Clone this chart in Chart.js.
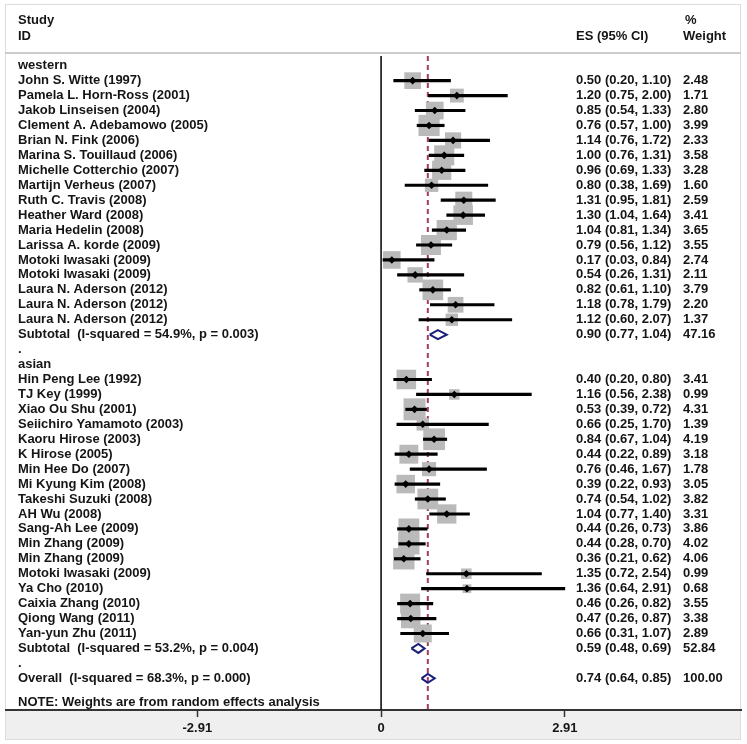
<!DOCTYPE html>
<html>
<head>
<meta charset="utf-8">
<title>Forest plot</title>
<script src="https://cdn.jsdelivr.net/npm/chart.js@4.4.0/dist/chart.umd.min.js"></script>
<style>
  html, body { margin: 0; padding: 0; background: #fff; }
  #wrap { width: 747px; height: 744px; }
</style>
</head>
<body>
<div id="wrap"><canvas id="forest" width="747" height="744"></canvas></div>
<script>
/* Forest plot: western vs asian studies, random effects. */

// ---- data ----
const westernNames = [
  'John S. Witte (1997)', 'Pamela L. Horn-Ross (2001)', 'Jakob Linseisen (2004)',
  'Clement A. Adebamowo (2005)', 'Brian N. Fink (2006)', 'Marina S. Touillaud (2006)',
  'Michelle Cotterchio (2007)', 'Martijn Verheus (2007)', 'Ruth C. Travis (2008)',
  'Heather Ward (2008)', 'Maria Hedelin (2008)', 'Larissa A. korde (2009)',
  'Motoki Iwasaki (2009)', 'Motoki Iwasaki (2009)', 'Laura N. Aderson (2012)',
  'Laura N. Aderson (2012)', 'Laura N. Aderson (2012)',
];
const westernES = [0.50, 1.20, 0.85, 0.76, 1.14, 1.00, 0.96, 0.80, 1.31, 1.30, 1.04, 0.79, 0.17, 0.54, 0.82, 1.18, 1.12];
const westernLo = [0.20, 0.75, 0.54, 0.57, 0.76, 0.76, 0.69, 0.38, 0.95, 1.04, 0.81, 0.56, 0.03, 0.26, 0.61, 0.78, 0.60];
const westernHi = [1.10, 2.00, 1.33, 1.00, 1.72, 1.31, 1.33, 1.69, 1.81, 1.64, 1.34, 1.12, 0.84, 1.31, 1.10, 1.79, 2.07];
const westernWeight = [2.48, 1.71, 2.80, 3.99, 2.33, 3.58, 3.28, 1.60, 2.59, 3.41, 3.65, 3.55, 2.74, 2.11, 3.79, 2.20, 1.37];

const asianNames = [
  'Hin Peng Lee (1992)', 'TJ Key (1999)', 'Xiao Ou Shu (2001)', 'Seiichiro Yamamoto (2003)',
  'Kaoru Hirose (2003)', 'K Hirose (2005)', 'Min Hee Do (2007)', 'Mi Kyung Kim (2008)',
  'Takeshi Suzuki (2008)', 'AH Wu (2008)', 'Sang-Ah Lee (2009)', 'Min Zhang (2009)',
  'Min Zhang (2009)', 'Motoki Iwasaki (2009)', 'Ya Cho (2010)', 'Caixia Zhang (2010)',
  'Qiong Wang (2011)', 'Yan-yun Zhu (2011)',
];
const asianES = [0.40, 1.16, 0.53, 0.66, 0.84, 0.44, 0.76, 0.39, 0.74, 1.04, 0.44, 0.44, 0.36, 1.35, 1.36, 0.46, 0.47, 0.66];
const asianLo = [0.20, 0.56, 0.39, 0.25, 0.67, 0.22, 0.46, 0.22, 0.54, 0.77, 0.26, 0.28, 0.21, 0.72, 0.64, 0.26, 0.26, 0.31];
const asianHi = [0.80, 2.38, 0.72, 1.70, 1.04, 0.89, 1.67, 0.93, 1.02, 1.40, 0.73, 0.70, 0.62, 2.54, 2.91, 0.82, 0.87, 1.07];
const asianWeight = [3.41, 0.99, 4.31, 1.39, 4.19, 3.18, 1.78, 3.05, 3.82, 3.31, 3.86, 4.02, 4.06, 0.99, 0.68, 3.55, 3.38, 2.89];

const summaryLabels = [
  'Subtotal  (I-squared = 54.9%, p = 0.003)',
  'Subtotal  (I-squared = 53.2%, p = 0.004)',
  'Overall  (I-squared = 68.3%, p = 0.000)',
];
const summaryES = [0.90, 0.59, 0.74];
const summaryLo = [0.77, 0.48, 0.64];
const summaryHi = [1.04, 0.69, 0.85];
const summaryWeight = [47.16, 52.84, 100.00];

const groupNames = ['western', 'asian'];
const xTicks = [-2.91, 0, 2.91];
const noteText = 'NOTE: Weights are from random effects analysis';

// ---- row layout (one row per line of the table) ----
const rows = [];
rows.push({ label: groupNames[0], kind: 'head' });
westernNames.forEach((n, i) => rows.push({ label: n, kind: 'study', es: westernES[i], lo: westernLo[i], hi: westernHi[i], wt: westernWeight[i] }));
rows.push({ label: summaryLabels[0], kind: 'sum', es: summaryES[0], lo: summaryLo[0], hi: summaryHi[0], wt: summaryWeight[0] });
rows.push({ label: '.', kind: 'gap' });
rows.push({ label: groupNames[1], kind: 'head' });
asianNames.forEach((n, i) => rows.push({ label: n, kind: 'study', es: asianES[i], lo: asianLo[i], hi: asianHi[i], wt: asianWeight[i] }));
rows.push({ label: summaryLabels[1], kind: 'sum', es: summaryES[1], lo: summaryLo[1], hi: summaryHi[1], wt: summaryWeight[1] });
rows.push({ label: '.', kind: 'gap' });
rows.push({ label: summaryLabels[2], kind: 'sum', es: summaryES[2], lo: summaryLo[2], hi: summaryHi[2], wt: summaryWeight[2] });
rows.forEach((r, i) => (r.y = i));
const NOTE_ROW = rows.length + 0.6;

const Y_MIN = -0.65;
const Y_MAX = 43.12;
const studies = rows.filter((r) => r.kind === 'study');
const sums = rows.filter((r) => r.kind === 'sum');

const FONT_FAMILY = '"Liberation Sans", Arial, sans-serif';
const FONT = `bold 13px ${FONT_FAMILY}`;
const INK = '#151515';

// diamond outline for a pooled estimate
function diamond(r) {
  const h = 0.3;
  return [
    { x: r.lo, y: r.y }, { x: r.es, y: r.y - h }, { x: r.hi, y: r.y },
    { x: r.es, y: r.y + h }, { x: r.lo, y: r.y },
  ];
}

// ---- background: frame, header rule, grey axis band ----
const backdrop = {
  id: 'backdrop',
  beforeDraw(chart) {
    const ctx = chart.ctx;
    const a = chart.chartArea;
    ctx.save();
    ctx.fillStyle = '#fff';
    ctx.fillRect(0, 0, chart.width, chart.height);
    ctx.fillStyle = '#efefef';
    ctx.fillRect(5, a.bottom, 736, 30);
    ctx.strokeStyle = '#dcdcdc';
    ctx.lineWidth = 1;
    ctx.strokeRect(5.5, 4.5, 735, 735);
    ctx.strokeStyle = '#cccccc';
    ctx.lineWidth = 2;
    ctx.beginPath();
    ctx.moveTo(5, 53);
    ctx.lineTo(741, 53);
    ctx.stroke();
    ctx.restore();
  },
};

// ---- table text: study ids, ES (95% CI), % weight ----
const tableText = {
  id: 'tableText',
  afterDraw(chart) {
    const ctx = chart.ctx;
    const y = chart.scales.y;
    ctx.save();
    ctx.font = FONT;
    ctx.fillStyle = INK;
    ctx.textBaseline = 'middle';
    ctx.textAlign = 'left';
    ctx.fillText('Study', 18, 20);
    ctx.fillText('ID', 18, 36);
    ctx.fillText('ES (95% CI)', 576, 36);
    ctx.fillText('%', 685, 20);
    ctx.fillText('Weight', 683, 36);
    rows.forEach((r) => {
      const py = y.getPixelForValue(r.y);
      ctx.fillText(r.label, 18, py);
      if (r.es != null) {
        ctx.fillText(`${r.es.toFixed(2)} (${r.lo.toFixed(2)}, ${r.hi.toFixed(2)})`, 576, py);
        ctx.fillText(r.wt.toFixed(2), 683, py);
      }
    });
    ctx.fillText(noteText, 18, y.getPixelForValue(NOTE_ROW));
    ctx.restore();
  },
};

new Chart(document.getElementById('forest'), {
  type: 'scatter',
  data: {
    datasets: [
      {
        // vertical line at zero
        type: 'scatter', showLine: true, order: 10,
        data: [{ x: 0, y: Y_MIN }, { x: 0, y: Y_MAX }],
        borderColor: '#111', borderWidth: 1.6, pointRadius: 0,
      },
      {
        // overall estimate reference line
        type: 'scatter', showLine: true, order: 9,
        data: [{ x: summaryES[2], y: Y_MIN }, { x: summaryES[2], y: Y_MAX }],
        borderColor: '#a63a5a', borderWidth: 2, borderDash: [5, 4], pointRadius: 0,
      },
      {
        // weight boxes
        type: 'scatter', order: 8,
        data: studies.map((r) => ({ x: r.es, y: r.y })),
        pointStyle: 'rect',
        pointRadius: studies.map((r) => (10.6 * Math.sqrt(r.wt)) / Math.SQRT2),
        backgroundColor: '#bababa', borderWidth: 0,
      },
      {
        // confidence intervals
        type: 'bar', indexAxis: 'y', order: 7,
        data: studies.map((r) => ({ x: [r.lo, r.hi], y: r.y })),
        backgroundColor: '#000', barThickness: 2.5,
      },
      {
        // point estimates
        type: 'scatter', order: 6,
        data: studies.map((r) => ({ x: r.es, y: r.y })),
        pointStyle: 'rectRot', pointRadius: 3.8,
        backgroundColor: '#000', borderWidth: 0,
      },
      ...sums.map((r) => ({
        type: 'scatter', showLine: true, order: 5,
        data: diamond(r),
        borderColor: '#1b1f7a', borderWidth: 2, pointRadius: 0,
      })),
    ],
  },
  options: {
    responsive: false,
    animation: false,
    layout: { autoPadding: false, padding: { left: 6, right: 6, top: 56, bottom: 0 } },
    plugins: { legend: { display: false }, tooltip: { enabled: false } },
    scales: {
      x: {
        type: 'linear', min: -5.94, max: 5.70, offset: false, beginAtZero: false,
        afterBuildTicks: (scale) => { scale.ticks = xTicks.map((v) => ({ value: v })); },
        afterFit: (scale) => { scale.height = 34; scale.paddingLeft = 0; scale.paddingRight = 0; },
        ticks: {
          autoSkip: false, maxRotation: 0, padding: 4,
          color: INK, font: { family: FONT_FAMILY, size: 13, weight: 'bold' },
          callback: (v) => (v === 0 ? '0' : v.toFixed(2)),
        },
        grid: { offset: false, drawOnChartArea: false, tickLength: 7, tickColor: '#333', tickWidth: 1.5 },
        border: { color: '#333', width: 2 },
      },
      y: {
        type: 'linear', min: Y_MIN, max: Y_MAX, reverse: true, display: false,
        offset: false, beginAtZero: false, grid: { offset: false },
      },
    },
  },
  plugins: [backdrop, tableText],
});
</script>
</body>
</html>
